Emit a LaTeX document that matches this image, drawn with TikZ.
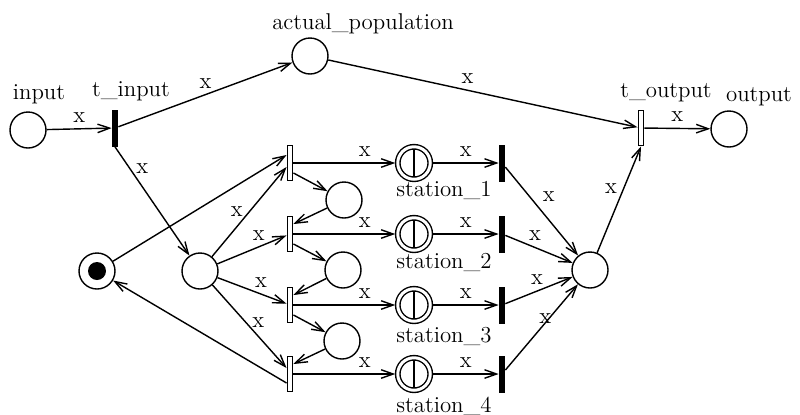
\documentclass[tikz,border=0pt]{standalone}
\usepackage{tikz}
\usetikzlibrary{arrows.meta}

\tikzset{
  place/.style={circle, draw, thick, minimum size=0.72cm, inner sep=0pt},
  marked/.style={path picture={\fill (path picture bounding box.center) circle (0.18cm);}},
  station/.style={circle, draw, thick, double, double distance=0.06cm, minimum size=0.65cm, inner sep=0pt, outer sep=0.05cm,
    path picture={\draw[thick] (path picture bounding box.north) -- (path picture bounding box.south);}},
  bar/.style={rectangle, fill=black, minimum width=0.12cm, minimum height=0.74cm, inner sep=0pt},
  wbar/.style={rectangle, draw, thick, fill=white, minimum width=0.11cm, minimum height=0.71cm, inner sep=0pt}
}

\begin{document}
\begin{tikzpicture}[x=0.02cm, y=-0.02cm, >={Straight Barb[length=0.24cm,width=0.17cm]}, font=\fontsize{13}{15}\selectfont]
\useasboundingbox (0,0) rectangle (800,414);
% places
\node[place] (input) at (28,130) {};
\node[place] (actual) at (310,56) {};
\node[place] (output) at (729,129) {};
\node[place, marked] (tok) at (97,271) {};
\node[place] (wait) at (200,271) {};
\node[place] (c1) at (344,200) {};
\node[place] (c2) at (343,270) {};
\node[place] (c3) at (342,341) {};
\node[place] (done) at (590,270) {};
% transitions
\node[bar] (tin) at (115,128) {};
\node[wbar] (tout) at (641,128) {};
\node[wbar] (tA1) at (290,163) {};
\node[wbar] (tA2) at (290,234) {};
\node[wbar] (tA3) at (290,305) {};
\node[wbar] (tA4) at (290,374) {};
\node[bar] (tB1) at (502,163) {};
\node[bar] (tB2) at (502,234) {};
\node[bar] (tB3) at (502,305) {};
\node[bar] (tB4) at (502,374) {};
% stations
\node[station] (s1) at (414,163) {};
\node[station] (s2) at (414,234) {};
\node[station] (s3) at (414,305) {};
\node[station] (s4) at (414,374) {};
% names
\node (inputlbl) at (39,94) {input};
\node (tinlbl) at (131,91) {t\_input};
\node (actuallbl) at (363,24) {actual\_population};
\node (toutlbl) at (666,93) {t\_output};
\node (outputlbl) at (759,97) {output};
\node (s1lbl) at (444,190) {station\_1};
\node (s2lbl) at (444,262) {station\_2};
\node (s3lbl) at (444,336) {station\_3};
\node (s4lbl) at (444,406) {station\_4};
% arcs
\draw[thick, ->] (input) -- (tin) node[midway, above] {x};
\draw[thick, ->] (tin) -- (actual) node[midway, above] {x};
\draw[thick, ->] (actual) -- (tout) node[pos=0.45, above] {x};
\draw[thick, ->] (tout) -- (output) node[midway, above] {x};
\draw[thick, ->] (tin.south) -- (wait) node[pos=0.2, right] {x};
\draw[thick, ->] (tok) -- ([yshift=0.16cm]tA1.west);
\draw[thick, ->] ([yshift=-0.18cm]tA4.west) -- (tok);
\draw[thick, ->] (wait) -- ([yshift=-0.08cm]tA1.west) node[midway, left] {x};
\draw[thick, ->] (wait) -- (tA2) node[pos=0.6, above] {x};
\draw[thick, ->] (wait) -- (tA3) node[pos=0.63, above] {x};
\draw[thick, ->] (wait) -- ([yshift=0.12cm]tA4.west) node[pos=0.45, right] {x};
\draw[thick, ->] ([yshift=-0.2cm]tA1.east) -- (c1);
\draw[thick, ->] (c1) -- ([yshift=0.2cm]tA2.east);
\draw[thick, ->] ([yshift=-0.2cm]tA2.east) -- (c2);
\draw[thick, ->] (c2) -- ([yshift=0.2cm]tA3.east);
\draw[thick, ->] ([yshift=-0.2cm]tA3.east) -- (c3);
\draw[thick, ->] (c3) -- ([yshift=0.2cm]tA4.east);
\draw[thick, ->] (tA1) -- (s1) node[pos=0.7, above] {x};
\draw[thick, ->] (tA2) -- (s2) node[pos=0.7, above] {x};
\draw[thick, ->] (tA3) -- (s3) node[pos=0.7, above] {x};
\draw[thick, ->] (tA4) -- (s4) node[pos=0.7, above] {x};
\draw[thick, ->] (s1) -- (tB1) node[midway, above] {x};
\draw[thick, ->] (s2) -- (tB2) node[midway, above] {x};
\draw[thick, ->] (s3) -- (tB3) node[midway, above] {x};
\draw[thick, ->] (s4) -- (tB4) node[midway, above] {x};
\draw[thick, ->] (tB1) -- (done) node[pos=0.33, right=4pt] {x};
\draw[thick, ->] (tB2) -- (done) node[pos=0.44, above] {x};
\draw[thick, ->] (tB3) -- (done) node[pos=0.47, above] {x};
\draw[thick, ->] (tB4) -- (done) node[pos=0.6, left=-5pt] {x};
\draw[thick, ->] (done) -- (tout.south) node[pos=0.6, left] {x};
\end{tikzpicture}
\end{document}
